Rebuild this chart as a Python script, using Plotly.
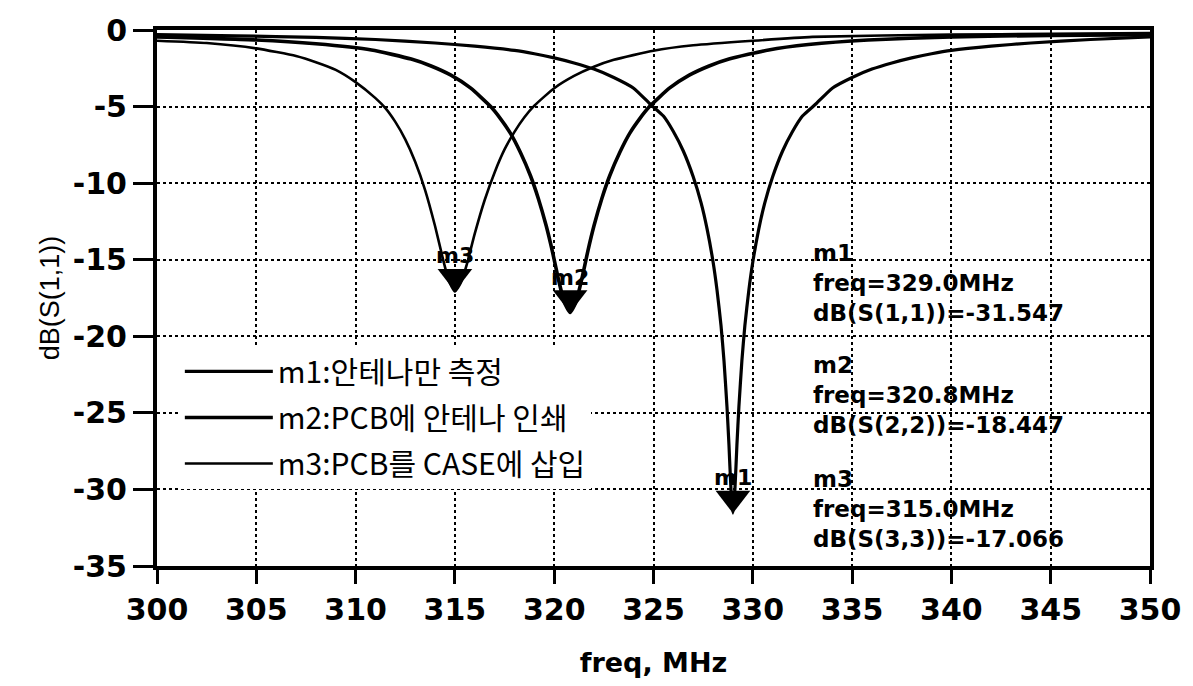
import plotly.graph_objects as go

# ---------------- data ----------------
series_names = ["m1:안테나만 측정", "m2:PCB에 안테나 인쇄", "m3:PCB를 CASE에 삽입"]

m1_freq = [300, 304, 308, 311, 314, 316, 318, 319, 320, 321, 322, 323, 324, 324.8, 325.5, 326, 326.5,
           327, 327.4, 327.7, 328, 328.2, 328.4, 328.55, 328.7, 328.8, 328.9, 329, 329.1, 329.2, 329.3,
           329.45, 329.6, 329.8, 330, 330.3, 330.6, 331, 331.5, 332, 332.5, 333.2, 334, 335, 336, 337,
           338, 339, 340, 342, 344, 347, 350]
m1_db = [-0.3, -0.38, -0.48, -0.62, -0.85, -1.05, -1.33, -1.55, -1.82, -2.15, -2.55, -3.1, -3.8, -4.8, -5.62,
         -6.63, -7.9, -9.58, -11.3, -13.0, -15.15, -17.0, -19.3, -21.6, -24.6, -27.1, -29.96, -31.547, -29.96,
         -27.1, -24.6, -21.6, -19.3, -17.0, -15.15, -13.0, -11.3, -9.58, -7.9, -6.63, -5.62, -4.8, -3.8, -3.1,
         -2.55, -2.15, -1.82, -1.55, -1.33, -1.05, -0.85, -0.62, -0.45]

m2_freq = [300, 305, 308, 310.8, 312.8, 313.8, 314.8, 315.8, 316.8, 317.3, 317.8, 318.3, 318.8, 319.2,
           319.6, 319.9, 320.2, 320.5, 320.8, 321.1, 321.4, 321.7, 322.0, 322.4, 322.8, 323.3, 323.8,
           324.3, 324.8, 325.8, 326.8, 327.8, 328.8, 330.8, 332.8, 335.8, 340, 345, 350]
m2_db = [-0.45, -0.65, -0.9, -1.3, -1.9, -2.35, -2.95, -3.8, -5.0, -5.8, -6.75, -8.0, -9.5, -11.0,
         -12.8, -14.4, -16.2, -17.75, -18.447, -17.75, -16.2, -14.4, -12.8, -11.0, -9.5, -8.0, -6.75,
         -5.8, -5.0, -3.8, -2.95, -2.35, -1.9, -1.3, -0.95, -0.65, -0.45, -0.35, -0.3]

m3_freq = [300, 302.5, 305, 307, 308, 309, 310, 311, 311.5, 312, 312.5, 313, 313.5, 314, 314.4, 314.7,
           315, 315.3, 315.6, 316, 316.5, 317, 317.5, 318, 318.5, 319, 320, 321, 322, 323, 325, 327,
           330, 333, 340, 345, 350]
m3_db = [-0.7, -0.85, -1.2, -1.7, -2.1, -2.6, -3.4, -4.45, -5.1, -6.0, -7.14, -8.6, -10.45, -12.8, -14.96, -16.4,
         -17.066, -16.5, -15.3, -13.3, -11.1, -9.3, -7.8, -6.65, -5.7, -4.94, -3.8, -3.0, -2.4, -1.95, -1.35, -1.0,
         -0.7, -0.45, -0.3, -0.25, -0.2]

marker_names = ["m1", "m2", "m3"]
marker_freq = [329.0, 320.8, 315.0]
marker_db = [-31.547, -18.447, -17.066]
marker_param = ["S(1,1)", "S(2,2)", "S(3,3)"]

x_ticks = [300, 305, 310, 315, 320, 325, 330, 335, 340, 345, 350]
x_tick_labels = ["300", "305", "310", "315", "320", "325", "330", "335", "340", "345", "350"]
y_ticks = [0, -5, -10, -15, -20, -25, -30, -35]
y_tick_labels = ["0", "-5", "-10", "-15", "-20", "-25", "-30", "-35"]

# ---------------- layout constants ----------------
W, H = 1193, 686
ML, MR, MT, MB = 157, 36, 26, 118
plot_h = H - MT - MB
px_per_db = plot_h / 35.0
tri_size = 30


def ypaper(ypx):
    return (H - MB - ypx) / plot_h


def xpaper(xpx):
    return (xpx - ML) / (W - ML - MR)


fig = go.Figure()

widths = [3.2, 3.6, 2.6]
for name, fx, fy, w in zip(series_names, [m1_freq, m2_freq, m3_freq], [m1_db, m2_db, m3_db], widths):
    fig.add_trace(go.Scatter(
        x=fx, y=fy, mode="lines", name=name,
        line=dict(color="black", width=w, shape="spline", smoothing=0.5),
        legendgroup=name,
    ))

# marker triangles (tip at the marker value)
fig.add_trace(go.Scatter(
    x=marker_freq,
    y=[v + (tri_size / 2) / px_per_db for v in marker_db],
    mode="markers",
    marker=dict(symbol="triangle-down", size=tri_size, color="black"),
    showlegend=False,
    hoverinfo="skip",
))

# marker name labels above the triangles
for nm, f, v in zip(marker_names, marker_freq, marker_db):
    fig.add_annotation(
        x=f, y=v, xref="x", yref="y", xanchor="center", yanchor="bottom",
        yshift=21, showarrow=False, text=nm,
        font=dict(family="DejaVu Sans", size=22, color="black", weight="bold"),
    )

# marker readout blocks
block_centers = [282, 395, 510]
for nm, f, v, p, yc in zip(marker_names, marker_freq, marker_db, marker_param, block_centers):
    txt = f"{nm}<br>freq={f:.1f}MHz<br>dB({p})={v:.3f}"
    fig.add_annotation(
        x=xpaper(816), y=ypaper(yc), xref="paper", yref="paper",
        xanchor="left", yanchor="middle", align="left", showarrow=False, text=txt,
        font=dict(family="DejaVu Sans", size=23, color="black", weight="bold"),
    )

axis_common = dict(
    showgrid=True, gridcolor="black", griddash="dot", gridwidth=1.5,
    showline=True, linecolor="black", linewidth=4, mirror=True,
    ticks="outside", tickwidth=3, tickcolor="black",
    tickfont=dict(family="DejaVu Sans", size=30, color="black", weight="bold"),
    zeroline=False,
)

fig.update_layout(
    width=W, height=H,
    margin=dict(l=ML, r=MR, t=MT, b=MB),
    paper_bgcolor="white", plot_bgcolor="white",
    xaxis=dict(range=[300, 350], tickvals=x_ticks, ticktext=x_tick_labels, ticklen=14,
               title=dict(text="freq, MHz", standoff=28,
                          font=dict(family="DejaVu Sans", size=27, color="black", weight="bold")),
               **axis_common),
    yaxis=dict(range=[-35, 0], tickvals=y_ticks, ticktext=y_tick_labels, ticklen=20,
               title=dict(text="dB(S(1,1))", standoff=6,
                          font=dict(family="Liberation Sans", size=27, color="black")),
               **axis_common),
    legend=dict(
        x=xpaper(180), y=ypaper(345), xanchor="left", yanchor="top",
        bgcolor="white", borderwidth=0, itemwidth=88, tracegroupgap=4,
        font=dict(family="Noto Sans CJK KR", size=30, color="black"),
    ),
    showlegend=True,
)

fig.write_html("out.html")
